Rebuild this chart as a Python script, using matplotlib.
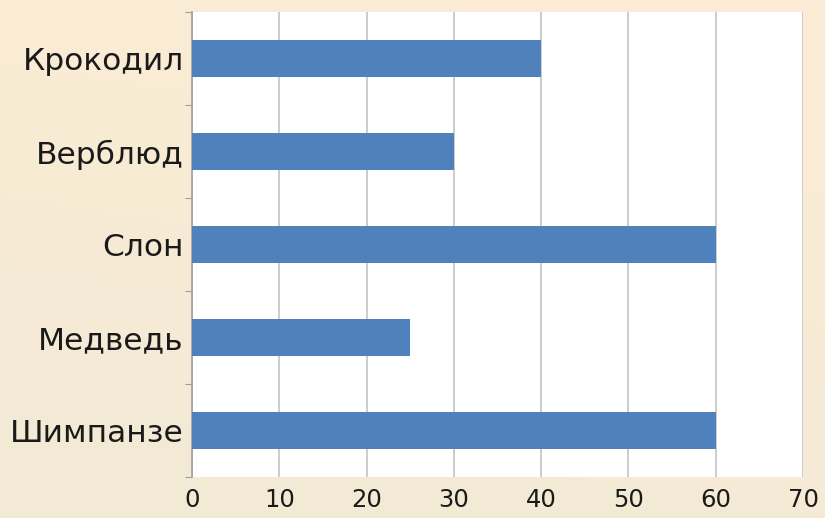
import numpy as np
import matplotlib
matplotlib.use('Agg')
import matplotlib.pyplot as plt

# ---- data ----
animals = ['Крокодил', 'Верблюд', 'Слон', 'Медведь', 'Шимпанзе']
values = [40, 30, 60, 25, 60]
x_ticks = [0, 10, 20, 30, 40, 50, 60, 70]

BAR_COLOR = '#4f81bd'

fig = plt.figure(figsize=(8.25, 5.18), dpi=100)

# soft peach/cream gradient background
bg = fig.add_axes([0, 0, 1, 1], zorder=-10)
yy, xx = np.mgrid[0:1:200j, 0:1:200j]
top = np.array([252, 236, 212]) / 255.0
bot = np.array([242, 234, 214]) / 255.0
w = (yy * 0.8 + xx * 0.2)[..., None]
img = bot * (1 - w) + top * w
bg.imshow(img, origin='lower', extent=[0, 1, 0, 1], aspect='auto')
bg.axis('off')

ax = fig.add_axes([192 / 825, 1 - 477 / 518, (803 - 192) / 825, (477 - 12) / 518])
ax.set_facecolor('white')

pos = np.arange(len(animals))
ax.barh(pos, values, height=0.4, color=BAR_COLOR, zorder=3)

ax.set_xlim(0, 70)
ax.set_ylim(len(animals) - 0.5, -0.5)
ax.set_xticks(x_ticks)
ax.set_xticklabels([str(t) for t in x_ticks], fontsize=17.5, color='#1a1a1a')
ax.tick_params(axis='x', length=0, pad=8)
ax.xaxis.grid(True, color='#c4c4c4', lw=1.2, zorder=0)

# category boundary ticks on y axis, labels at centres
ax.set_yticks(np.arange(-0.5, len(animals)), minor=False)
ax.set_yticklabels([])
ax.tick_params(axis='y', which='major', length=5, color='#a0a0a0', direction='out')
ax.set_yticks(pos, minor=True)
ax.set_yticklabels(animals, minor=True, fontsize=22.5, color='#1a1a1a')
ax.tick_params(axis='y', which='minor', length=0, pad=6)

for s in ['top', 'right', 'bottom']:
    ax.spines[s].set_visible(False)
ax.spines['left'].set_color('#a0a0a0')
ax.spines['left'].set_linewidth(1.2)

fig.savefig('out.png', dpi=100)
